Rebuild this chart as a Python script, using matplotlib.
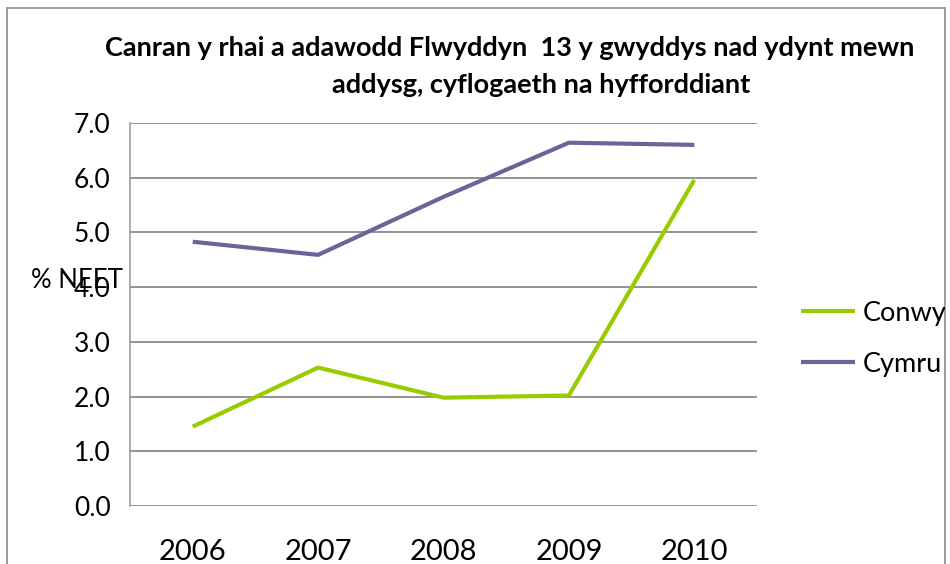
import matplotlib.pyplot as plt
from matplotlib.patches import Rectangle

years = ["2006", "2007", "2008", "2009", "2010"]
conwy = [1.45, 2.53, 1.98, 2.02, 5.96]
cymru = [4.83, 4.59, 5.65, 6.64, 6.60]
yticks = [0.0, 1.0, 2.0, 3.0, 4.0, 5.0, 6.0, 7.0]

title_1 = "Canran y rhai a adawodd Flwyddyn  13 y gwyddys nad ydynt mewn"
title_2 = "addysg, cyflogaeth na hyfforddiant"

plt.rcParams['font.family'] = ['Lato', 'DejaVu Sans']

W, H = 950, 564
fig = plt.figure(figsize=(W / 100, H / 100), dpi=100)
fig.patch.set_facecolor('white')

# outer chart border (bottom is cropped in the reference)
border = Rectangle((7 / W, -0.1), (945 - 7) / W, 1.1 - 8 / H, transform=fig.transFigure,
                   fill=False, edgecolor='#8c8c8c', lw=1.2)
fig.patches.append(border)

ax = fig.add_axes([130 / W, 1 - 506 / H, (757 - 130) / W, (506 - 123) / H])
x = range(len(years))
ax.plot(x, conwy, color='#99cc00', lw=3, label='Conwy', solid_capstyle='butt')
ax.plot(x, cymru, color='#666699', lw=3, label='Cymru', solid_capstyle='butt')

ax.set_xlim(-0.5, len(years) - 0.5)
ax.set_ylim(0, 7)
ax.set_yticks(yticks)
ax.set_yticklabels([f"{v:.1f}" for v in yticks])
ax.set_xticks(list(x))
ax.set_xticklabels(years)
ax.tick_params(axis='both', length=0, labelsize=19, colors='black')
ax.tick_params(axis='x', labelsize=21, pad=24)
ax.tick_params(axis='y', pad=14)
ax.grid(axis='y', color='#808080', lw=1.2)
ax.set_axisbelow(True)
for s in ['top', 'right', 'bottom']:
    ax.spines[s].set_visible(False)
ax.spines['left'].set_color('#a0a0a0')
ax.spines['left'].set_linewidth(1.2)

fig.text(77 / W, 1 - 280 / H, "% NEET", fontsize=18.5, ha='center', va='center')

fig.text(510 / W, 1 - 48 / H, title_1, fontsize=19.5, fontweight='bold', ha='center', va='center')
fig.text(541 / W, 1 - 85 / H, title_2, fontsize=19.5, fontweight='bold', ha='center', va='center')

leg = fig.legend(loc='upper left', bbox_to_anchor=(790 / W, 1 - 290 / H), frameon=False,
                 fontsize=19.5, handlelength=2.0, handletextpad=0.3, labelspacing=0.95,
                 borderaxespad=0)
clip = Rectangle((0, 0), 945 / W, 1, transform=fig.transFigure, visible=False)
fig.patches.append(clip)
for t in leg.get_texts():
    t.set_clip_path(clip)

fig.savefig('out.png', dpi=100)
